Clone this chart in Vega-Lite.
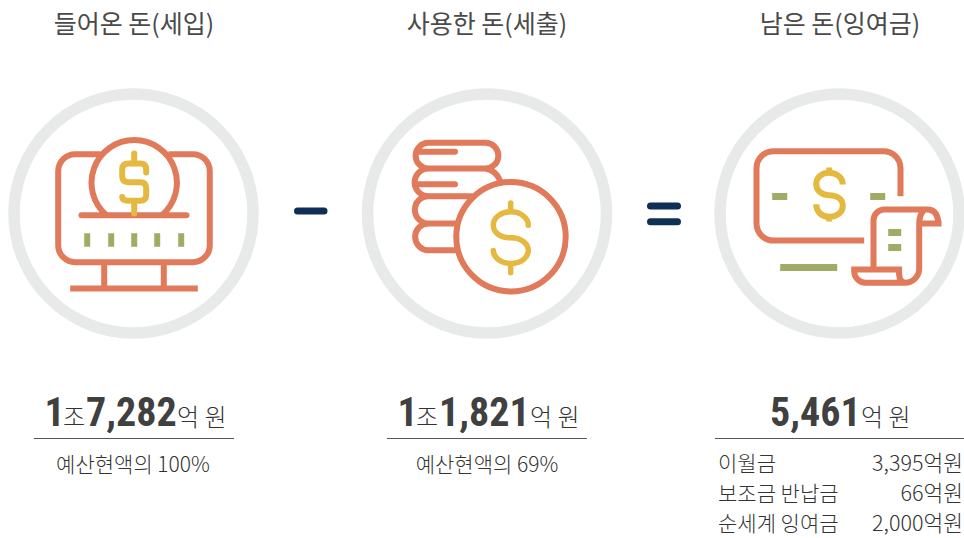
{"$schema":"https://vega.github.io/schema/vega-lite/v6.json","width":964,"height":538,"padding":0,"autosize":{"type":"none"},"background":"white","view":{"stroke":null},"config":{"text":{"font":"Noto Sans CJK KR"}},
"datasets":{"centers":[{"icon":"세입","x":133.5,"y":213.5},{"icon":"세출","x":487,"y":213.5},{"icon":"잉여금","x":839.5,"y":213.5}]},
"encoding":{"x":{"field":"x","type":"quantitative","scale":{"domain":[0,964],"nice":false,"zero":false},"axis":null},"y":{"field":"y","type":"quantitative","scale":{"domain":[538,0],"nice":false,"zero":false},"axis":null}},
"layer":[
{"data":{"name":"centers"},"mark":{"type":"point","shape":"circle","filled":false,"size":57121,"stroke":"#E8EAE9","strokeWidth":11.5,"opacity":1}},
{"data":{"name":"centers"},"transform":[{"filter":"datum.icon=='세입'"}],"mark":{"type":"point","filled":false,"opacity":1,"size":4,"stroke":"#E07A5B","strokeWidth":6,"shape":"M-33,-59.3 H-58.3 A17,17 0 0 0 -75.3,-42.3 V31.7 A17,17 0 0 0 -58.3,48.7 H59.3 A17,17 0 0 0 76.3,31.7 V-42.3 A17,17 0 0 0 59.3,-59.3 H35 M-27,1.7 A42.7,42.7 0 1 1 28.4,1.7 M-29.3,48.7 V75 M30.3,48.7 V75 M-63.3,75 H64.3"}},
{"data":{"name":"centers"},"transform":[{"filter":"datum.icon=='세입'"}],"mark":{"type":"point","filled":false,"opacity":1,"size":4,"stroke":"#E07A5B","strokeWidth":6,"strokeCap":"round","shape":"M-52,1.7 H53"}},
{"data":{"name":"centers"},"transform":[{"filter":"datum.icon=='세입'"}],"mark":{"type":"point","filled":false,"opacity":1,"size":4,"stroke":"#E5B83F","strokeWidth":6,"strokeCap":"round","shape":"M12.7,-41 V-44 Q12.7,-50 6.7,-50 H-5 Q-11.3,-50 -11.3,-44 V-37.5 Q-11.3,-31.3 -5,-31.3 H6.7 Q12.7,-31.3 12.7,-25 V-19 Q12.7,-12.7 6.7,-12.7 H-5 Q-11.3,-12.7 -11.3,-16.5 M0.7,-60 V-50 M0.7,-12.7 V0"}},
{"data":{"name":"centers"},"transform":[{"filter":"datum.icon=='세입'"}],"mark":{"type":"point","filled":false,"opacity":1,"size":4,"stroke":"#A0AB66","strokeWidth":6,"shape":"M-46.3,19.7 V33.3 M-22.3,19.7 V33.3 M0.7,19.7 V33.3 M23.7,19.7 V33.3 M47.7,19.7 V33.3"}},
{"data":{"name":"centers"},"transform":[{"filter":"datum.icon=='세출'"}],"mark":{"type":"point","filled":false,"opacity":1,"size":4,"stroke":"#E07A5B","strokeWidth":6,"strokeCap":"round","shape":"M-58.5,-70.7 H-1.5 A12.85,12.85 0 0 1 -1.5,-45 H-58.5 A12.85,12.85 0 0 1 -58.5,-70.7 M-58.5,-45 A13.85,13.85 0 0 0 -58.5,-17.3 H-13.7 M-1.5,-45 Q9,-43 13,-33 M-58.5,-17.3 A13.65,13.65 0 0 0 -58.5,10 H-30 M-58.5,10 A13.35,13.35 0 0 0 -58.5,36.7 H-29.7 M-68,-61.7 H-32 M-68,-29.3 H-32 M-30.7,23.3 A54.7,54.7 0 1 1 78.7,23.3 A54.7,54.7 0 1 1 -30.7,23.3 Z"}},
{"data":{"name":"centers"},"transform":[{"filter":"datum.icon=='세출'"}],"mark":{"type":"point","filled":false,"opacity":1,"size":4,"stroke":"#E5B83F","strokeWidth":5.5,"strokeCap":"round","shape":"M41.3,11.7 C41.3,4 33,-1.7 24,-1.7 C14,-1.7 6.3,4 6.3,11.5 C6.3,19 13,24.3 24,24.3 C34,24.3 41.3,30 41.3,37 C41.3,44 34,50 24,50 C14,50 6.3,44 6.3,37 M23.7,-10.5 V-1.7 M23.7,50 V59.2"}},
{"data":{"name":"centers"},"transform":[{"filter":"datum.icon=='잉여금'"}],"mark":{"type":"point","filled":false,"opacity":1,"size":4,"stroke":"#E07A5B","strokeWidth":6,"shape":"M61,-17.3 V-45.3 A17,17 0 0 0 44,-62.3 H-66 A17,17 0 0 0 -83,-45.3 V10 A17,17 0 0 0 -66,27 H24.7 M34,56 V7 A11,11 0 0 1 45,-4 H88 Q99,-4 99,13 M78,10 H102 M84,-3 Q79.7,2 79.7,10 V55 A14.3,14.3 0 0 1 65.4,69.3 H26 A11.5,11.5 0 0 1 14.7,58 V56 H59.5 V58 Q59.5,69.3 66,69.3"}},
{"data":{"name":"centers"},"transform":[{"filter":"datum.icon=='잉여금'"}],"mark":{"type":"point","filled":false,"opacity":1,"size":4,"stroke":"#E5B83F","strokeWidth":6,"shape":"M3.3,-29 C3.3,-36 -3,-40.7 -10.3,-40.7 C-18,-40.7 -23.3,-36 -23.3,-29.5 C-23.3,-23 -18,-18.3 -10.3,-18.3 C-2,-18.3 3.3,-14 3.3,-7.5 C3.3,-1 -3,3.3 -10.3,3.3 C-18,3.3 -23.3,-2 -23.3,-9.3 M-10.3,-46 V-40.7 M-10.3,3.3 V8"}},
{"data":{"name":"centers"},"transform":[{"filter":"datum.icon=='잉여금'"}],"mark":{"type":"point","filled":false,"opacity":1,"size":4,"stroke":"#A0AB66","strokeWidth":7,"shape":"M-67.3,-17 H-52.3 M30.7,-17 H45.7 M-59.3,54 H-2.3 M48.7,19 H61.7 M48.7,34 H61.7"}},
{"data":{"values":[{"op":"minus","x":297.5,"x2":324,"y":211},{"op":"equals","x":650.5,"x2":677.5,"y":206},{"op":"equals","x":650.5,"x2":677.5,"y":221.7}]},"mark":{"type":"rule","stroke":"#0F2F57","strokeWidth":7,"strokeCap":"round"},"encoding":{"x2":{"field":"x2"}}},
{"data":{"values":[{"x":34,"x2":234,"y":438.5},{"x":387,"x2":587,"y":438.5},{"x":715,"x2":964,"y":438.5}]},"mark":{"type":"rule","stroke":"#555555","strokeWidth":1},"encoding":{"x2":{"field":"x2"}}},
{"data":{"values":[{"t":"들어온 돈(세입)","x":134,"y":33},{"t":"사용한 돈(세출)","x":487,"y":33},{"t":"남은 돈(잉여금)","x":840,"y":33}]},"mark":{"type":"text","fontSize":25,"fontWeight":400,"color":"#4a4a4a","align":"center","baseline":"alphabetic"},"encoding":{"text":{"field":"t"}}},
{"data":{"values":[{"t":"1","x":44.5,"y":425.5},{"t":"7,282","x":86,"y":425.5},{"t":"1","x":397.5,"y":425.5},{"t":"1,821","x":439,"y":425.5},{"t":"5,461","x":770,"y":425.5}]},"mark":{"type":"text","font":"Roboto Condensed, Roboto","fontSize":40,"fontWeight":"bold","color":"#404040","align":"left","baseline":"alphabetic"},"encoding":{"text":{"field":"t"}}},
{"data":{"values":[{"t":"조","x":63,"y":426},{"t":"억 원","x":177,"y":426},{"t":"조","x":416,"y":426},{"t":"억 원","x":530,"y":426},{"t":"억 원","x":861,"y":426}]},"mark":{"type":"text","fontSize":24,"fontWeight":300,"color":"#333333","align":"left","baseline":"alphabetic"},"encoding":{"text":{"field":"t"}}},
{"data":{"values":[{"t":"예산현액의 100%","x":133,"y":472},{"t":"예산현액의 69%","x":487,"y":472}]},"mark":{"type":"text","fontSize":21,"fontWeight":300,"color":"#333333","align":"center","baseline":"alphabetic"},"encoding":{"text":{"field":"t"}}},
{"data":{"values":[{"t":"이월금","x":718,"y":471},{"t":"보조금 반납금","x":718,"y":501},{"t":"순세계 잉여금","x":718,"y":531}]},"mark":{"type":"text","fontSize":21,"fontWeight":300,"color":"#333333","align":"left","baseline":"alphabetic"},"encoding":{"text":{"field":"t"}}},
{"data":{"values":[{"t":"3,395억원","x":963,"y":471},{"t":"66억원","x":963,"y":501},{"t":"2,000억원","x":963,"y":531}]},"mark":{"type":"text","fontSize":21.5,"fontWeight":300,"color":"#333333","align":"right","baseline":"alphabetic"},"encoding":{"text":{"field":"t"}}}
]}
